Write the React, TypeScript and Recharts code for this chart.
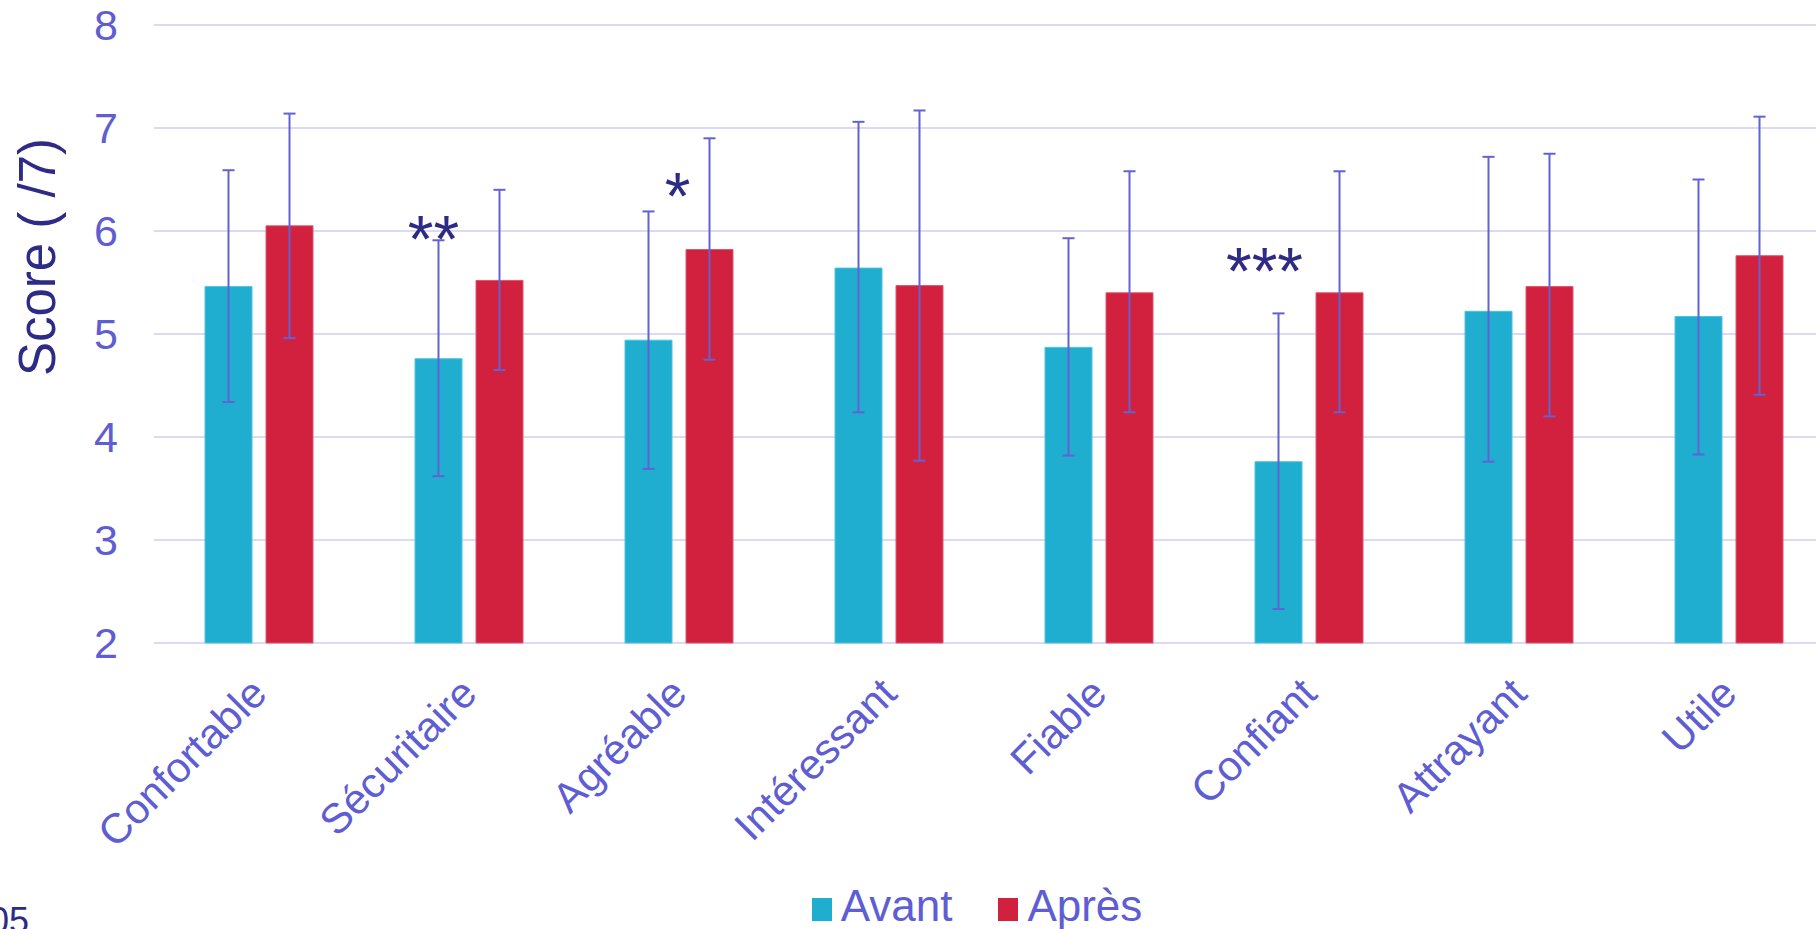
import React from 'react';
import { BarChart, Bar, XAxis, YAxis, CartesianGrid, ErrorBar, Legend, LabelList } from 'recharts';

const CATEGORIES = ['Confortable', 'Sécuritaire', 'Agréable', 'Intéressant', 'Fiable', 'Confiant', 'Attrayant', 'Utile'];
const AVANT = [5.46, 4.76, 4.94, 5.64, 4.87, 3.76, 5.22, 5.17];
const AVANT_LOW = [4.34, 3.62, 3.69, 4.24, 3.82, 2.33, 3.76, 3.83];
const AVANT_HIGH = [6.59, 5.91, 6.19, 7.06, 5.93, 5.2, 6.72, 6.5];
const APRES = [6.05, 5.52, 5.82, 5.47, 5.4, 5.4, 5.46, 5.76];
const APRES_LOW = [4.96, 4.65, 4.75, 3.77, 4.24, 4.24, 4.2, 4.41];
const APRES_HIGH = [7.14, 6.4, 6.9, 7.17, 6.58, 6.58, 6.75, 7.11];
// significance stars above the "Avant" bar, and the score level they sit at
const SIGNIFICANCE = ['', '**', '*', '', '', '***', '', ''];
const SIGNIFICANCE_AT = [0, 6.0, 6.42, 0, 0, 5.69, 0, 0];
const Y_TICKS = [2, 3, 4, 5, 6, 7, 8];

const COLORS = {
    avant: '#1FAECF',
    apres: '#D2213E',
    error: '#6262D2',
    grid: '#DCDAF2',
    tick: '#5E5DD3',
    title: '#2E2B86',
};
const FONT = '"Liberation Sans", Arial, sans-serif';
const SIG_DX = [0, -5, 29, 0, 0, -14, 0, 0];
const SIG_SIZE = 66;

const data = CATEGORIES.map((name, i) => ({
    name,
    Avant: AVANT[i],
    avantErr: [AVANT[i] - AVANT_LOW[i], AVANT_HIGH[i] - AVANT[i]],
    'Après': APRES[i],
    apresErr: [APRES[i] - APRES_LOW[i], APRES_HIGH[i] - APRES[i]],
    sig: SIGNIFICANCE[i],
}));

const SERIES = [
    { key: 'Avant', color: COLORS.avant },
    { key: 'Après', color: COLORS.apres },
];

const CategoryTick = ({ x, y, payload }: any) => {
    const ax = x + 10;
    const ay = y + 45;
    return (
        <text x={ax} y={ay} transform={`rotate(-45 ${ax} ${ay})`} textAnchor="end"
            fontSize={42} fontFamily={FONT} fill={COLORS.tick}>
            {payload.value}
        </text>
    );
};

const SigLabel = (props: any) => {
    const { x, y, width, height, index, value } = props;
    if (!value) return null;
    const v = AVANT[index];
    const ppu = Number(height) / (v - 2);
    const cy = Number(y) + Number(height) - (SIGNIFICANCE_AT[index] - 2) * ppu;
    return (
        <text x={Number(x) + Number(width) / 2 + SIG_DX[index]} y={cy + 0.47 * SIG_SIZE} textAnchor="middle"
            fontSize={SIG_SIZE} fontFamily={FONT} fill={COLORS.title}>
            {value}
        </text>
    );
};

const YTitle = () => (
    <text x={37} y={257} transform="rotate(-90 37 257)" textAnchor="middle" dominantBaseline="central"
        fontSize={51} fontFamily={FONT} fill={COLORS.title}>
        Score ( /7)
    </text>
);

const LegendContent = () => (
    <div style={{ display: 'flex', justifyContent: 'center', alignItems: 'center', height: 50, fontFamily: FONT, fontSize: 44, color: COLORS.tick, lineHeight: '50px', paddingTop: 4, boxSizing: 'border-box' }}>
        {SERIES.map(s => (
            <span key={s.key} style={{ display: 'flex', alignItems: 'center', margin: '0 23px' }}>
                <span style={{ display: 'inline-block', width: 20, height: 23, background: s.color, marginRight: 9, marginTop: 6 }} />
                {s.key}
            </span>
        ))}
    </div>
);

const App: React.FC = () => {
    return (
        <div style={{ position: 'absolute', left: 0, top: 0, width: 1816, height: 929, background: '#fff', overflow: 'hidden' }}>
            <BarChart width={1816} height={929} data={data} barSize={47} barGap={14}
                margin={{ top: 25, right: -18, left: 0, bottom: 0 }}>
                <CartesianGrid vertical={false} stroke={COLORS.grid} strokeWidth={2} />
                <XAxis dataKey="name" axisLine={false} tickLine={false} height={236} interval={0} tick={<CategoryTick />} />
                <YAxis domain={[2, 8]} ticks={Y_TICKS} width={154} axisLine={false} tickLine={false} tickMargin={30}
                    tick={{ fontSize: 43, fontFamily: FONT, fill: COLORS.tick }} label={<YTitle />} />
                <Legend verticalAlign="bottom" content={<LegendContent />} wrapperStyle={{ left: 152, width: 1650 }} />
                <Bar dataKey="Avant" fill={COLORS.avant} stroke="#4EC2DD" strokeWidth={1} isAnimationActive={false}>
                    <ErrorBar dataKey="avantErr" stroke={COLORS.error} strokeWidth={2} width={6} />
                    <LabelList dataKey="sig" content={<SigLabel />} />
                </Bar>
                <Bar dataKey="Après" fill={COLORS.apres} stroke="#E0546B" strokeWidth={1} isAnimationActive={false}>
                    <ErrorBar dataKey="apresErr" stroke={COLORS.error} strokeWidth={2} width={6} />
                </Bar>
            </BarChart>
            <div style={{ position: 'absolute', left: -40, top: 900, width: 69, textAlign: 'right', fontFamily: FONT, fontSize: 36, color: COLORS.title }}>
                05
            </div>
        </div>
    );
};

export default App;
